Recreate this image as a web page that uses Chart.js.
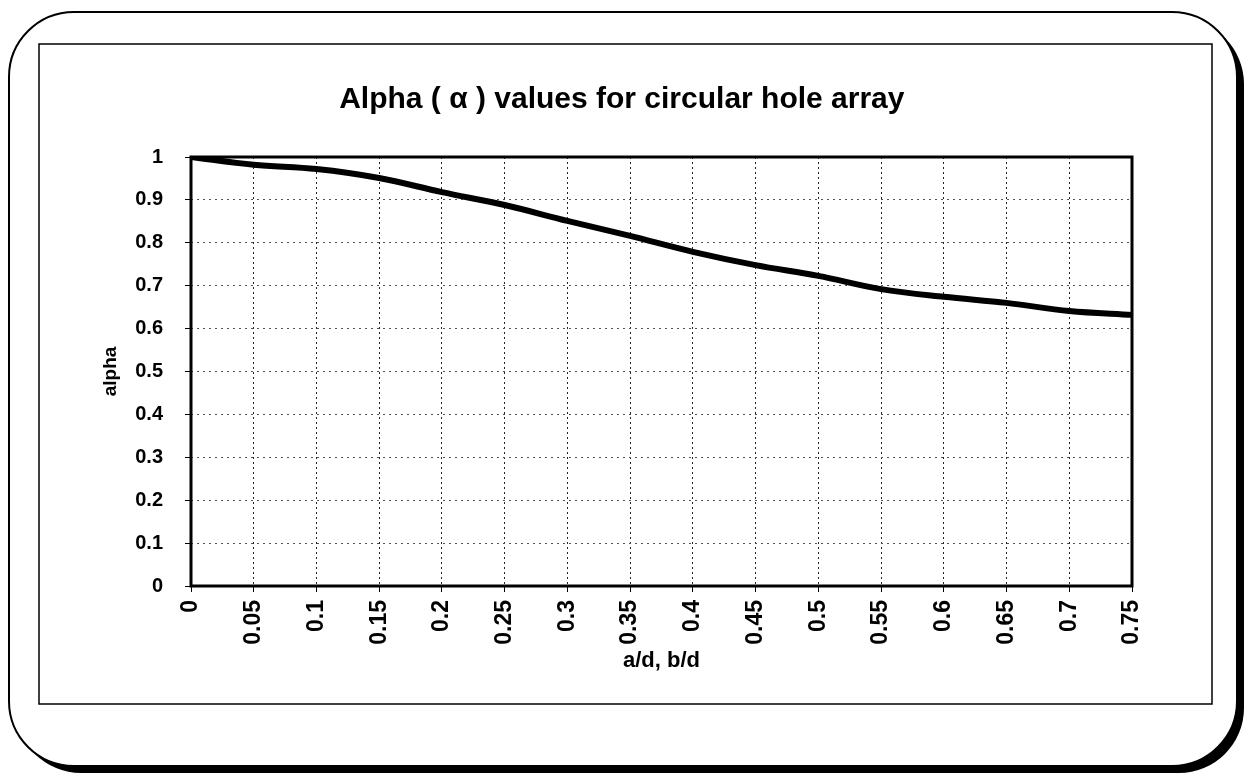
<!DOCTYPE html>
<html>
<head>
<meta charset="utf-8">
<title>Alpha values for circular hole array</title>
<script src="https://cdn.jsdelivr.net/npm/chart.js@4.4.1/dist/chart.umd.min.js"></script>
<style>
  html, body { margin: 0; padding: 0; background: #fff; }
  canvas { display: block; }
</style>
</head>
<body>
<canvas id="alphaChart" width="1244" height="778"></canvas>
<script>
// a/d, b/d categories along the bottom
var ratioLabels = ['0', '0.05', '0.1', '0.15', '0.2', '0.25', '0.3', '0.35',
                   '0.4', '0.45', '0.5', '0.55', '0.6', '0.65', '0.7', '0.75'];
// alpha
var alphaValues = [1, 0.982, 0.972, 0.951, 0.918, 0.888, 0.851, 0.816,
                   0.779, 0.748, 0.723, 0.692, 0.674, 0.660, 0.641, 0.632];
var yMin = 0, yMax = 1, yStep = 0.1;

var fontFamily = '"Liberation Sans", Arial, Helvetica, sans-serif';

// paper frames + the heavy plot border
var framePlugin = {
    id: 'frames',
    beforeDraw: function (chart) {
        var ctx = chart.ctx;
        ctx.save();
        ctx.fillStyle = '#fff';
        ctx.fillRect(0, 0, chart.width, chart.height);

        // outer rounded box with shadow on the right/bottom
        ctx.fillStyle = '#000';
        ctx.beginPath();
        ctx.roundRect(16, 19, 1228, 754, 65);
        ctx.fill();
        ctx.fillStyle = '#fff';
        ctx.strokeStyle = '#000';
        ctx.lineWidth = 2;
        ctx.beginPath();
        ctx.roundRect(9, 12, 1228, 754, 65);
        ctx.fill();
        ctx.stroke();

        // inner chart box
        ctx.lineWidth = 1.5;
        ctx.strokeRect(39, 44, 1173, 660);
        ctx.restore();
    },
    afterDatasetsDraw: function (chart) {
        var a = chart.chartArea;
        var ctx = chart.ctx;
        ctx.save();
        ctx.strokeStyle = '#000';
        ctx.lineWidth = 3;
        ctx.strokeRect(a.left, a.top, a.right - a.left, a.bottom - a.top);
        ctx.restore();
    }
};

var config = {
    type: 'line',
    data: {
        labels: ratioLabels,
        datasets: [{
            label: 'alpha',
            data: alphaValues,
            borderColor: '#000',
            borderWidth: 6,
            pointRadius: 0,
            tension: 0.35,
            fill: false
        }]
    },
    options: {
        responsive: false,
        animation: false,
        devicePixelRatio: 1,
        layout: {
            padding: { left: 95, right: 112, top: 58, bottom: 100 }
        },
        plugins: {
            legend: { display: false },
            tooltip: { enabled: false },
            title: {
                display: true,
                text: '  Alpha ( \u03b1 ) values for circular hole array',
                color: '#000',
                font: { family: fontFamily, size: 30, weight: 'bold' },
                padding: { top: 24, bottom: 39 }
            }
        },
        scales: {
            x: {
                type: 'category',
                offset: false,
                grid: {
                    color: '#222',
                    lineWidth: 1,
                    borderDash: [2, 3],
                    tickBorderDash: [],
                    tickLength: 6,
                    tickColor: '#000'
                },
                border: { display: false, dash: [2, 3] },
                ticks: {
                    color: '#000',
                    autoSkip: false,
                    minRotation: 90,
                    maxRotation: 90,
                    padding: 8,
                    font: { family: fontFamily, size: 23, weight: 'bold' }
                },
                title: {
                    display: true,
                    text: 'a/d, b/d',
                    color: '#000',
                    padding: { top: 2, bottom: 4 },
                    font: { family: fontFamily, size: 22, weight: 'bold' }
                },
                afterFit: function (scale) { scale.height = 92; }
            },
            y: {
                min: yMin,
                max: yMax,
                grid: {
                    color: '#555',
                    lineWidth: 1,
                    borderDash: [2, 4],
                    tickBorderDash: [],
                    tickLength: 6,
                    tickColor: '#000'
                },
                border: { display: false, dash: [2, 4] },
                ticks: {
                    stepSize: yStep,
                    color: '#000',
                    padding: 22,
                    font: { family: fontFamily, size: 20, weight: 'bold' },
                    callback: function (value) {
                        return String(Math.round(value * 10) / 10);
                    }
                },
                title: {
                    display: true,
                    text: 'alpha',
                    color: '#000',
                    padding: { top: 4, bottom: 4 },
                    font: { family: fontFamily, size: 19, weight: 'bold' }
                },
                afterFit: function (scale) { scale.width = 96; }
            }
        }
    },
    plugins: [framePlugin]
};

window.onload = function () {
    var ctx = document.getElementById('alphaChart').getContext('2d');
    window.alphaChart = new Chart(ctx, config);
};
</script>
</body>
</html>
